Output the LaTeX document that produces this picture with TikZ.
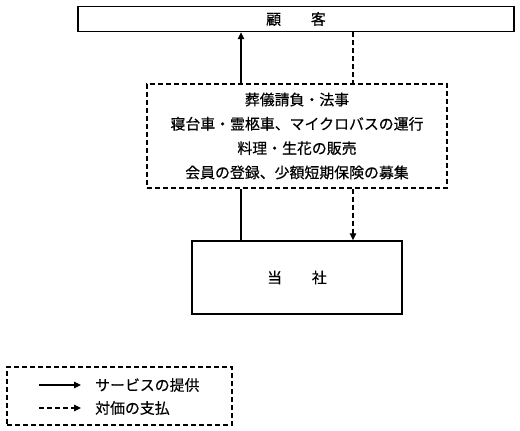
\documentclass[tikz,border=0pt]{standalone}
\usepackage{fontspec}
\setmainfont[FakeBold=0.4]{Noto Sans CJK JP}
\usetikzlibrary{arrows.meta}
\begin{document}
\begin{tikzpicture}[x=1pt,y=-1pt,
  txt/.style={font=\fontsize{14.9}{24.3}\selectfont},
  solidbox/.style={draw, line width=1.4pt, inner sep=0pt, txt},
  dashbox/.style={draw, line width=1.1pt, dash pattern=on 5pt off 3pt, inner sep=0pt, txt},
  svcline/.style={line width=1.1pt},
  payline/.style={line width=1.1pt, dash pattern=on 5pt off 3pt},
  tip/.style={-{Triangle[length=7pt,width=6.5pt]}}
]
\useasboundingbox[fill=white] (0,0) rectangle (520,431);

\node[solidbox, minimum width=436pt, minimum height=25pt] (cust) at (296,19) {顧　　客};
\node[dashbox, minimum width=300pt, minimum height=104pt, align=center] (serv) at (297,136)
  {葬儀請負・法事\\寝台車・霊柩車、マイクロバスの運行\\料理・生花の販売\\会員の登録、少額短期保険の募集};
\node[solidbox, minimum width=210pt, minimum height=73pt] (co) at (297,277.5) {当　　社};

\coordinate (xs) at (241,0);
\coordinate (xp) at (353,0);

\draw[svcline, tip] (serv.north -| xs) -- (cust.south -| xs);
\draw[svcline] (co.north -| xs) -- (serv.south -| xs);
\draw[payline] (cust.south -| xp) -- (serv.north -| xp);
\draw[payline, tip] (serv.south -| xp) -- (co.north -| xp);

\node[dashbox, minimum width=225pt, minimum height=58pt] (leg) at (119.5,396) {};
\coordinate (l1s) at (39,385);
\coordinate (l1e) at (81,385);
\coordinate (l2s) at (39,408);
\coordinate (l2e) at (81,408);
\draw[svcline, tip] (l1s) -- (l1e);
\draw[payline, tip] (l2s) -- (l2e);
\node[txt, anchor=west, inner sep=0pt] (lt1) at (95,385) {サービスの提供};
\node[txt, anchor=west, inner sep=0pt] (lt2) at (95,408) {対価の支払};
\end{tikzpicture}
\end{document}
